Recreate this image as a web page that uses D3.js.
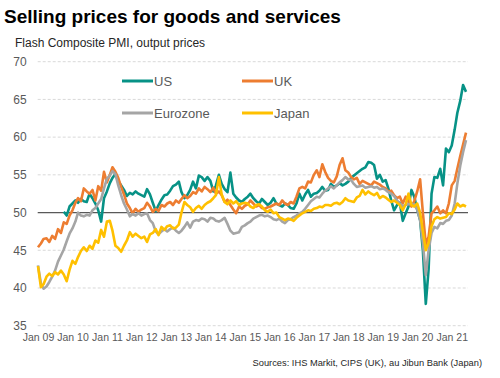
<!DOCTYPE html>
<html><head><meta charset="utf-8">
<script src="https://cdn.jsdelivr.net/npm/d3@7/dist/d3.min.js"></script>
<style>
body{margin:0;background:#fff}
svg{display:block;font-family:"Liberation Sans",Arial,Helvetica,sans-serif}
</style>
</head><body><svg id="c" width="500" height="378"></svg>
<script>
// ---- data (monthly, Jan 2009 - Jun 2021) ----
const firstMonth = new Date(2009, 0, 1);
const nMonths = 150;
const yTicks = [35, 40, 45, 50, 55, 60, 65, 70];
const xTickYears = [2009,2010,2011,2012,2013,2014,2015,2016,2017,2018,2019,2020,2021];
const seriesNames = ["US", "UK", "Eurozone", "Japan"];

const us = [
 null,null,null,null,null,null,null,null,null,50.1,49.6,50.8,
 51.2,51.6,51.3,51.8,51.5,51.4,52.5,51.9,51.2,50.3,48.8,51.9,
 52.8,53.9,54.6,55.1,54.2,53.6,53.0,52.2,52.6,52.4,52.8,52.5,
 52.3,52.1,53.1,52.4,51.3,50.2,51.0,51.7,52.3,52.4,52.9,53.5,
 53.7,54.1,52.7,51.9,52.3,53.0,54.1,53.2,54.9,54.7,54.2,54.7,
 54.2,52.8,53.6,55.0,53.8,53.1,52.7,55.3,52.5,52.0,51.6,51.4,
 51.8,52.1,52.5,51.9,51.5,51.2,51.8,51.4,51.0,51.3,51.9,51.2,
 51.0,50.8,51.2,51.0,50.6,50.5,51.2,52.5,51.6,52.4,53.0,52.1,
 52.5,52.6,52.9,53.4,52.9,53.0,53.8,53.4,53.6,53.9,53.6,53.8,
 54.1,54.6,54.9,55.2,55.5,55.8,56.0,56.7,56.6,56.3,54.5,55.0,
 54.1,54.3,53.2,51.6,50.3,51.0,51.3,48.9,49.9,50.8,53.0,52.1,
 50.4,49.0,45.0,37.9,42.5,52.5,54.7,54.6,55.8,53.6,58.5,58.0,
 58.9,61.0,63.2,64.8,66.9,66.0
];
const uk = [
 45.4,45.9,46.5,46.6,46.1,46.9,46.5,47.8,47.3,48.7,48.5,49.6,
 50.3,51.3,51.9,51.5,53.2,52.8,52.5,53.0,51.6,53.5,52.9,55.4,
 54.0,55.0,56.0,55.4,54.6,53.4,52.4,51.2,50.6,49.9,50.5,50.1,
 50.4,50.6,51.3,50.8,50.1,50.5,50.2,51.0,50.8,51.2,51.4,51.0,
 51.6,51.3,51.8,52.3,51.9,52.2,52.7,52.5,53.2,52.8,53.4,53.1,
 52.7,53.3,52.5,52.8,52.3,51.4,51.7,51.0,50.4,49.9,50.8,50.5,
 50.9,51.1,51.6,51.2,50.8,51.0,50.6,50.5,50.7,50.8,51.0,51.2,
 51.0,51.6,51.2,51.0,51.4,51.2,52.1,53.2,53.4,53.2,54.1,54.0,
 55.0,55.6,54.7,56.4,55.4,54.6,54.2,54.0,54.8,56.3,57.2,55.6,
 55.3,54.7,54.4,54.6,53.8,54.2,54.0,53.8,53.6,54.1,53.9,53.7,
 53.4,53.2,52.8,52.9,52.3,51.9,52.1,51.2,52.1,51.4,50.8,51.5,
 52.8,54.4,50.0,45.8,46.8,49.9,50.3,50.8,49.9,50.3,49.9,51.2,
 53.6,54.2,55.8,57.5,59.0,60.6
];
const eurozone = [
 43.0,40.6,39.9,40.2,40.8,41.5,42.3,43.5,44.3,45.1,46.2,47.2,
 47.9,48.8,50.0,49.6,49.5,49.7,49.6,50.3,50.6,51.2,51.8,53.2,
 54.5,54.9,55.5,55.1,53.6,52.3,51.2,50.4,49.5,49.8,49.6,49.9,
 49.6,49.8,49.9,49.0,48.6,47.5,47.1,47.5,47.8,47.5,47.8,48.0,
 47.6,47.3,47.6,48.1,48.7,48.0,48.8,49.0,48.9,49.2,49.1,48.8,
 49.3,49.2,48.9,48.8,49.0,49.3,48.5,47.6,47.2,47.3,47.4,48.1,
 48.3,48.6,48.8,49.2,49.4,49.6,49.7,49.5,49.6,49.4,49.1,49.0,
 49.2,48.8,48.6,49.0,49.1,49.4,49.6,49.9,50.1,50.5,51.0,51.5,
 51.8,52.1,52.0,52.5,52.9,53.2,53.5,53.2,53.6,54.0,54.3,54.7,
 54.4,54.3,53.8,53.4,53.5,53.6,53.3,53.4,53.5,53.3,53.4,53.1,
 53.2,53.0,52.7,52.5,52.2,51.6,51.2,50.8,51.0,51.1,51.2,51.0,
 50.4,49.0,46.0,41.7,45.0,47.3,48.1,47.9,48.6,48.5,48.9,49.0,
 49.6,51.2,53.8,56.2,58.0,59.6
];
const japan = [
 42.9,40.1,40.5,41.5,41.9,41.6,42.1,41.8,42.3,41.8,40.9,42.4,
 43.6,43.2,44.1,44.9,45.4,44.9,45.6,45.2,46.3,46.0,47.7,46.8,
 48.8,48.9,47.6,45.6,45.3,44.8,45.6,46.3,47.4,46.8,47.2,46.9,
 46.6,46.8,46.1,47.1,47.3,47.8,47.0,48.1,47.7,48.2,48.3,47.9,
 48.0,48.4,50.0,51.4,51.0,50.7,50.1,50.6,50.9,50.5,51.0,51.3,
 51.5,51.9,52.3,54.7,52.4,51.4,51.1,51.6,51.2,51.5,51.0,51.2,
 51.3,51.2,50.8,50.6,51.0,51.1,50.8,50.3,50.1,50.4,49.9,50.0,
 49.4,49.2,49.0,49.2,49.1,48.9,49.3,49.6,49.9,50.1,50.3,50.2,
 50.5,50.6,50.8,50.7,51.0,51.0,50.9,51.2,51.3,51.1,51.4,51.9,
 51.6,51.5,51.4,52.0,52.2,53.0,52.4,52.8,52.5,52.3,52.6,51.9,
 52.2,52.0,51.7,51.4,51.6,51.3,51.0,50.3,51.1,52.5,51.0,50.8,
 51.2,50.0,47.5,45.0,46.0,48.2,49.1,49.4,49.2,49.3,49.4,49.9,
 49.8,50.4,51.2,50.8,51.0,50.8
];

// ---- chart ----
const colors = {US:"#079286", UK:"#ED7D31", Eurozone:"#A5A5A5", Japan:"#FFC000"};
const values = {US:us, UK:uk, Eurozone:eurozone, Japan:japan};
const months = d3.range(nMonths).map(i => new Date(2009, i, 1));

const svg = d3.select("#c");
const left = 37.7, right = 468, plotRight = 466;
const x = d3.scaleTime().domain([months[0], months[nMonths-1]]).range([38, plotRight]);
const y = d3.scaleLinear().domain([35, 70]).range([325.7, 61.7]);

svg.append("text").attr("x", 4).attr("y", 23)
  .attr("font-size", 19).attr("font-weight", "bold").attr("fill", "#000")
  .text("Selling prices for goods and services");
svg.append("text").attr("x", 15).attr("y", 47)
  .attr("font-size", 12).attr("fill", "#262626")
  .text("Flash Composite PMI, output prices");

// gridlines
svg.append("g").selectAll("line").data(yTicks.filter(d => d !== 50)).join("line")
  .attr("x1", left).attr("x2", right)
  .attr("y1", d => y(d)).attr("y2", d => y(d))
  .attr("stroke", "#D9D9D9").attr("stroke-width", 1).attr("stroke-dasharray", "3,2");
svg.append("line").attr("x1", left).attr("x2", right)
  .attr("y1", y(50)).attr("y2", y(50))
  .attr("stroke", "#595959").attr("stroke-width", 1.2);

// y axis
const yAxis = svg.append("g").attr("transform", `translate(${left},0)`)
  .call(d3.axisLeft(y).tickValues(yTicks).tickSize(0).tickPadding(11).tickFormat(d3.format("d")));
yAxis.select(".domain").remove();
yAxis.selectAll("text").attr("font-size", 12).attr("fill", "#595959")
  .attr("font-family", '"Liberation Sans",Arial,sans-serif');

// x axis
const janDates = xTickYears.map(yv => new Date(yv, 0, 1));
const xAxis = svg.append("g").attr("transform", `translate(0,${y(35)})`)
  .call(d3.axisBottom(x).tickValues(janDates).tickSize(0).tickPadding(8).tickFormat(d3.timeFormat("Jan %y")));
xAxis.select(".domain").remove();
xAxis.selectAll("text").attr("font-size", 10.5).attr("fill", "#595959")
  .attr("font-family", '"Liberation Sans",Arial,sans-serif');

// lines
const line = d3.line().defined(d => d.v != null).x(d => x(d.date)).y(d => y(d.v));
seriesNames.forEach(name => {
  const data = months.map((date, i) => ({date, v: values[name][i]}));
  svg.append("path").datum(data)
    .attr("fill", "none").attr("stroke", colors[name])
    .attr("stroke-width", 2.6).attr("stroke-linejoin", "round")
    .attr("d", line);
});

// legend
const legendPos = {US:[122, 81], UK:[242, 81], Eurozone:[122, 113], Japan:[242, 113]};
seriesNames.forEach(name => {
  const [lx, ly] = legendPos[name];
  svg.append("line").attr("x1", lx).attr("x2", lx + 31).attr("y1", ly).attr("y2", ly)
    .attr("stroke", colors[name]).attr("stroke-width", 3);
  svg.append("text").attr("x", lx + 32).attr("y", ly + 4.6)
    .attr("font-size", 13).attr("fill", "#595959").text(name);
});

// source
svg.append("text").attr("x", 482).attr("y", 366).attr("text-anchor", "end")
  .attr("font-size", 9.3).attr("fill", "#262626")
  .text("Sources: IHS Markit, CIPS (UK), au Jibun Bank (Japan)");
</script>
</body></html>
